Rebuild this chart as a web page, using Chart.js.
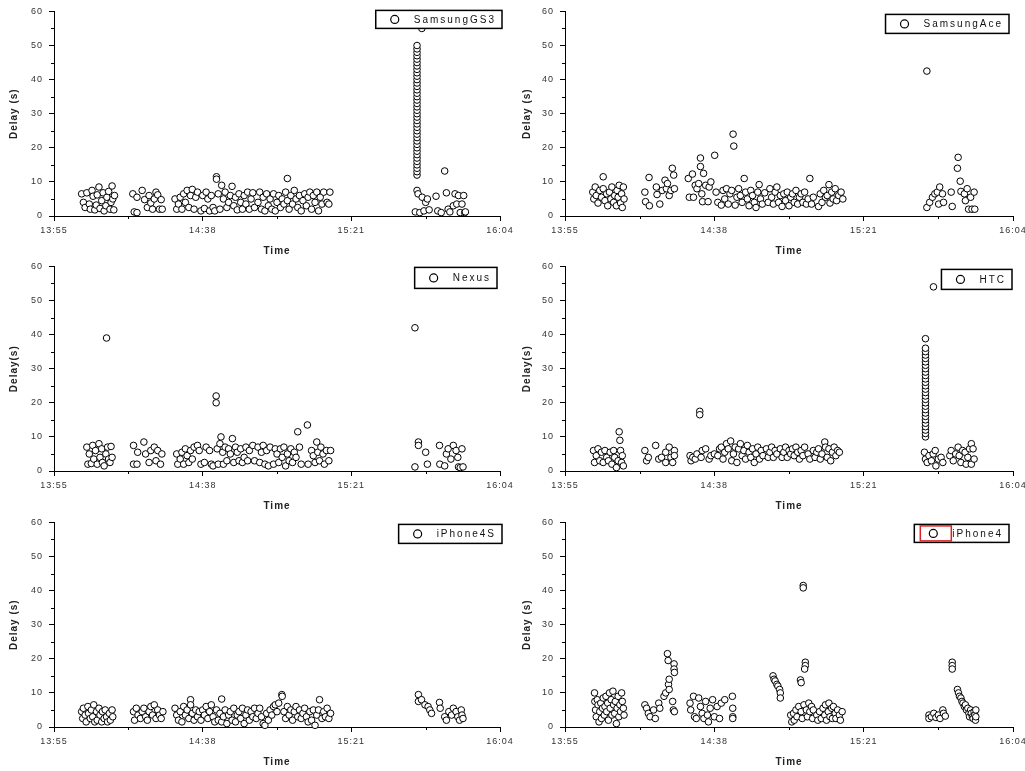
<!DOCTYPE html>
<html lang="en">
<head>
  <meta charset="UTF-8" />
  <title>Delay per device</title>
  <script src="https://cdn.jsdelivr.net/npm/chart.js"></script>
  <style>
    body { margin: 0; background: #fff; overflow: hidden; }
    .panel { position: absolute; }
  </style>
</head>
<body>

  <canvas id="c1" class="panel" width="535" height="258" style="left:0;top:0"></canvas>
  <canvas id="c2" class="panel" width="535" height="258" style="left:510px;top:0"></canvas>
  <canvas id="c3" class="panel" width="535" height="258" style="left:0;top:255px"></canvas>
  <canvas id="c4" class="panel" width="535" height="258" style="left:510px;top:255px"></canvas>
  <canvas id="c5" class="panel" width="535" height="258" style="left:0;top:511px"></canvas>
  <canvas id="c6" class="panel" width="535" height="258" style="left:510px;top:511px"></canvas>

  <script>
    // x values are minutes after 13:55
    const timeTicks = [0, 21.5, 43, 64.5, 86, 107.5, 129];
    const timeLabels = ['13:55', '', '14:38', '', '15:21', '', '16:04'];

    const samsungGS3 = [
      [8.0,6.5],[8.5,4.0],[9.0,2.5],[9.5,6.8],[10.2,3.5],[10.5,2.0],[11.0,7.5],[11.3,5.8],[11.8,1.8],[12.2,3.2],
      [12.5,6.2],[13.0,8.5],[13.3,2.2],[13.8,4.5],[14.2,6.8],[14.5,1.5],[15.0,3.0],[15.3,5.5],[15.8,7.2],[16.2,2.0],
      [16.5,4.0],[16.8,8.8],[17.0,5.0],[17.3,1.8],[17.5,6.0],
      [22.8,6.5],[23.2,1.2],[24.0,1.0],[24.0,5.5],[25.5,7.5],[26.2,4.8],[27.0,2.5],[27.5,6.0],[28.0,3.8],[28.5,2.0],
      [29.0,5.0],[29.5,7.0],[30.0,6.2],[30.5,2.0],[31.0,4.8],[31.3,2.0],
      [35.0,5.0],[35.5,2.0],[36.0,3.5],[36.5,5.5],[37.0,2.0],[37.5,6.5],[38.0,4.0],[38.5,7.5],[39.0,2.5],[39.5,6.0],
      [40.0,7.8],[40.5,2.0],[41.0,5.5],[41.5,7.0],[42.5,1.5],[43.0,6.0],[43.5,2.2],[44.0,7.0],[44.5,5.0],[45.0,1.5],
      [45.5,6.0],[46.0,2.5],[46.5,1.5],[47.0,11.5],[47.0,10.8],[47.5,6.5],[48.0,2.0],[48.5,9.0],[49.0,5.0],[49.5,7.0],
      [50.0,2.5],[50.5,4.0],[51.0,6.0],[51.5,8.7],[52.0,3.0],[52.5,5.5],[53.0,1.8],[53.5,6.5],[54.0,4.0],[54.5,2.0],
      [55.0,6.0],[55.5,3.5],[56.0,7.0],[56.5,2.0],[57.0,5.0],[57.5,6.8],[58.0,2.5],[59.0,4.0],[59.5,7.0],[60.0,2.0],
      [60.5,5.5],[61.0,1.5],[61.5,6.5],[62.0,3.0],[62.5,5.0],[63.0,2.0],[63.5,6.5],[64.0,1.5],[64.5,4.0],[65.0,6.0],
      [65.5,2.5],[66.0,5.0],[66.5,3.5],[67.0,7.0],[67.5,11.0],[67.5,4.5],[68.0,2.0],[68.5,6.0],[69.0,3.5],[69.5,7.5],
      [70.0,5.0],[70.5,2.5],[71.0,6.0],[71.5,1.5],[72.0,4.5],[72.5,6.5],[73.0,3.0],[73.5,5.5],[74.0,7.0],[74.5,2.0],
      [75.0,6.0],[75.5,4.0],[76.0,7.0],[76.5,1.5],[77.0,5.5],[77.5,3.5],[78.0,7.0],[79.0,4.0],[79.5,3.5],[79.8,7.0],
      [106.4,55.0],
      [104.5,1.2],[105.0,7.5],[105.3,6.5],[105.8,1.0],[106.5,5.5],[107.0,1.5],[107.5,4.0],[108.0,5.0],[108.5,1.8],
      [110.5,5.8],[111.0,1.5],[112.0,1.0],[113.0,13.2],[113.5,6.8],[114.0,2.0],[114.5,1.2],[115.5,3.0],[116.0,6.5],
      [116.5,3.5],[117.0,6.0],[117.5,1.0],[118.0,3.5],[118.5,6.0],[118.8,1.0],[119.0,1.2]
    ];
    const gs3BurstTime = 105;
    const gs3Burst = [12,13,14,15,16,17,18,19,20,21,22,23,24,25,26,27,28,29,30,31,32,33,34,35,36,37,38,39,40,41,42,43,44,45,46,47,48,49,50];

    const samsungAce = [
      [8.0,7.0],[8.3,5.0],[8.7,8.5],[9.0,6.0],[9.5,3.8],[10.0,7.5],[10.5,5.5],[11.0,11.5],[11.0,8.0],[11.5,4.5],
      [12.0,6.5],[12.3,3.0],[12.8,7.0],[13.2,5.0],[13.5,8.5],[14.0,4.0],[14.3,6.0],[14.8,3.0],[15.0,7.5],[15.3,5.5],
      [15.6,9.0],[16.0,3.8],[16.3,6.5],[16.5,2.5],[16.8,8.5],[17.0,5.0],
      [23.0,7.0],[23.2,4.2],[24.2,11.3],[24.3,3.0],[26.3,8.5],[26.5,6.3],[27.3,3.5],[28.0,7.5],[28.8,10.5],[29.2,8.0],
      [29.5,9.5],[30.0,6.0],[30.5,7.5],[30.9,14.0],[31.3,12.0],[31.5,8.0],
      [35.5,11.0],[35.8,5.5],[36.7,12.3],[37.0,5.5],[37.5,9.0],[38.0,8.0],[38.5,9.5],[39.0,17.0],[39.0,14.5],[39.4,6.5],
      [39.6,4.2],[39.9,12.5],[40.5,9.0],[41.2,4.2],[41.5,8.5],[42.0,10.0],[43.1,17.8],[43.5,7.0],[44.0,4.0],[45.0,3.2],
      [45.5,7.5],[46.0,5.0],[46.5,8.0],[47.0,3.5],[47.5,6.5],[48.0,7.5],[48.4,24.0],[48.6,20.5],[49.0,3.2],[49.5,5.5],
      [50.0,8.0],[50.5,6.0],[51.0,4.0],[51.6,11.0],[52.0,7.0],[52.5,5.0],[53.0,3.0],[53.5,7.5],[54.0,6.0],[54.5,4.0],
      [55.0,2.5],[55.5,7.0],[55.9,9.2],[56.3,5.0],[56.8,3.5],[57.5,6.8],[58.5,4.0],[59.0,8.0],[59.5,5.5],[60.0,3.5],
      [60.5,7.0],[61.0,8.5],[61.5,4.0],[62.0,6.0],[62.5,2.8],[63.0,6.5],[63.5,4.5],[64.0,7.0],[64.5,3.0],[65.0,5.5],
      [65.5,6.5],[66.0,4.0],[66.5,7.5],[67.0,3.5],[67.5,5.5],[68.0,6.5],[68.5,4.0],[69.0,7.0],[69.5,3.5],[70.0,5.0],
      [70.5,11.0],[71.0,3.5],[71.5,5.5],[73.0,2.8],[73.5,6.5],[74.0,4.0],[74.5,7.5],[75.0,5.5],[75.5,6.0],[76.0,9.2],
      [76.3,3.8],[76.8,7.0],[77.2,5.0],[77.8,8.0],[78.2,4.5],[78.8,6.0],[79.5,7.0],[80.0,5.0],
      [104.2,42.5],[104.2,2.5],[105.0,4.0],[105.8,5.5],[106.5,6.5],[107.2,7.0],[107.6,3.5],[107.9,8.5],[108.7,6.5],
      [109.0,4.0],[111.2,7.0],[111.5,2.8],[113.0,14.0],[113.2,17.2],[113.8,10.2],[114.0,7.2],[115.0,6.5],[115.3,4.5],
      [115.8,8.0],[116.2,2.0],[116.8,5.5],[117.2,2.0],[117.8,7.0],[118.0,2.0]
    ];

    const nexus = [
      [9.5,7.0],[9.8,2.0],[10.2,5.0],[10.8,2.2],[11.2,7.5],[11.5,3.5],[12.0,6.0],[12.5,2.0],[13.0,8.0],[13.3,4.0],
      [13.8,6.5],[14.0,2.5],[14.5,1.5],[15.0,5.0],[15.2,39.0],[15.5,7.0],[15.8,3.5],[16.2,2.5],[16.5,7.2],[16.8,4.0],
      [23.0,7.5],[23.0,2.0],[24.0,2.0],[24.2,5.5],[26.0,8.5],[26.5,5.0],[27.5,2.5],[28.0,6.0],[29.0,7.0],[29.5,3.0],
      [30.0,6.0],[30.8,2.0],[31.2,5.0],
      [35.5,5.0],[35.8,2.0],[36.5,3.5],[37.0,5.5],[37.5,2.0],[38.0,6.5],[38.5,4.5],[39.0,2.5],[39.5,6.0],[40.0,3.5],
      [40.5,7.0],[41.5,7.5],[42.0,6.0],[42.5,2.0],[43.5,2.5],[44.0,7.0],[45.0,6.0],[45.5,2.0],[46.0,1.5],[46.9,22.0],
      [46.9,20.0],[47.2,6.5],[47.5,2.0],[48.0,8.0],[48.3,10.0],[48.8,5.5],[49.0,2.0],[49.5,7.0],[50.0,3.0],[50.5,6.5],
      [51.0,5.0],[51.6,9.5],[52.0,2.5],[52.5,7.0],[53.0,5.5],[53.5,3.0],[54.0,6.5],[54.5,2.5],[55.0,4.0],[55.5,7.0],
      [56.0,3.0],[56.5,6.0],[57.5,7.5],[58.0,3.0],[59.0,7.0],[59.5,2.5],[60.0,5.5],[60.5,7.5],[61.0,2.0],[61.5,6.0],
      [62.0,1.5],[62.5,7.0],[63.5,2.0],[64.0,6.5],[64.5,5.0],[65.0,2.5],[65.5,6.5],[66.0,4.0],[66.5,7.0],[67.0,1.5],
      [67.5,5.0],[68.0,3.0],[68.5,6.5],[69.0,2.5],[69.5,5.5],[70.0,4.0],[70.5,11.5],[71.0,7.0],[71.5,2.0],[73.3,13.5],
      [73.5,2.0],[74.5,6.0],[75.0,4.5],[75.5,2.5],[76.0,8.5],[76.3,5.5],[76.8,3.0],[77.2,7.0],[77.8,5.0],[78.2,2.0],
      [78.8,6.0],[79.5,3.0],[80.0,6.0],
      [104.4,42.0],[104.4,1.2],[105.4,8.5],[105.4,7.5],[107.5,5.5],[108.0,2.0],[111.5,7.5],[111.6,2.0],[113.0,1.5],
      [113.5,5.0],[114.0,6.5],[114.8,3.5],[115.5,7.5],[116.3,6.0],[116.8,4.0],[117.0,1.2],[117.5,1.0],[118.0,6.5],
      [118.3,1.2]
    ];

    const htc = [
      [8.2,6.0],[8.5,2.5],[9.0,4.5],[9.5,6.5],[10.0,3.0],[10.5,5.5],[11.0,2.5],[11.5,6.0],[12.0,4.0],[12.5,3.0],
      [13.0,5.5],[13.5,2.0],[14.0,6.0],[14.3,4.0],[14.8,1.0],[15.3,3.0],[15.6,11.5],[15.8,9.0],[16.0,6.0],[16.3,2.5],
      [16.5,4.5],[16.8,1.5],
      [23.0,6.0],[23.5,3.0],[24.0,4.0],[26.1,7.5],[27.0,3.5],[27.8,4.0],[29.0,5.5],[29.0,2.5],[30.0,7.0],[30.5,4.0],
      [31.0,2.5],[31.5,6.0],[31.5,4.5],
      [36.0,4.5],[36.3,3.0],[36.8,4.0],[37.5,3.5],[38.0,5.0],[38.8,17.5],[38.8,16.5],[39.2,4.0],[39.5,6.0],[40.5,6.5],
      [41.5,3.5],[42.0,4.5],[43.0,5.0],[44.0,4.5],[44.5,6.5],[45.0,7.0],[45.5,3.5],[46.0,5.5],[46.5,8.0],[47.0,6.5],
      [47.7,8.8],[48.0,3.0],[48.5,5.0],[49.0,7.0],[49.5,2.5],[50.0,6.5],[50.5,8.0],[51.0,4.5],[51.5,6.0],[52.0,3.5],
      [52.5,7.5],[53.0,5.5],[53.5,4.0],[54.0,6.5],[54.5,2.5],[55.0,5.0],[55.5,7.0],[56.0,3.5],[56.5,6.0],[57.0,4.5],
      [58.0,6.5],[58.5,4.0],[59.0,5.5],[59.5,7.0],[60.0,4.0],[60.5,6.0],[61.0,5.0],[62.0,6.5],[62.5,4.0],[63.0,5.5],
      [63.5,7.0],[64.0,4.0],[64.5,6.0],[65.0,5.0],[65.5,6.5],[66.0,4.5],[66.5,7.0],[67.0,5.5],[67.5,3.5],[68.0,6.0],
      [68.5,4.5],[69.0,7.0],[70.0,5.0],[70.5,3.5],[71.5,6.0],[72.0,4.0],[72.5,5.5],[73.0,6.5],[73.5,3.5],[74.0,5.0],
      [74.8,8.5],[75.0,7.0],[75.5,4.0],[76.0,6.5],[76.5,3.0],[77.0,5.5],[77.5,7.0],[78.0,4.5],[78.5,6.0],[79.0,5.5],
      [103.8,38.8],[106.1,54.0],
      [103.5,5.5],[103.8,3.5],[104.3,2.5],[104.8,4.5],[105.5,3.0],[106.0,5.0],[106.6,6.0],[106.8,1.5],[107.5,3.5],
      [108.3,4.0],[108.8,2.5],[110.8,4.5],[111.2,6.0],[111.8,3.0],[112.5,5.0],[113.2,7.0],[113.5,4.5],[114.0,2.5],
      [114.5,6.0],[115.2,5.5],[115.5,2.0],[116.0,4.0],[116.5,6.5],[117.0,8.0],[117.0,2.0],[117.5,6.5],[117.8,3.5]
    ];
    const htcBurstTime = 103.8;
    const htcBurst = [10,11,12,13,14,15,16,17,18,19,20,21,22,23,24,25,26,27,28,29,30,31,32,33,34,35,36];

    const iPhone4S = [
      [8.0,4.5],[8.3,2.5],[8.5,5.5],[9.0,3.5],[9.3,1.5],[9.8,6.0],[10.0,4.0],[10.5,2.5],[10.8,5.0],[11.2,3.0],
      [11.5,6.5],[11.8,1.5],[12.3,4.5],[12.5,2.0],[13.0,5.5],[13.3,3.5],[13.8,1.5],[14.0,4.5],[14.5,2.5],[14.8,5.0],
      [15.2,3.0],[15.5,1.5],[16.0,4.0],[16.3,2.0],[16.8,5.0],[17.0,3.0],
      [23.0,4.5],[23.3,2.0],[23.8,5.5],[24.3,3.5],[25.0,2.5],[25.5,4.5],[26.0,5.5],[26.5,3.0],[27.0,2.0],[27.5,4.5],
      [28.0,6.0],[28.5,3.5],[29.0,6.5],[29.5,2.5],[30.0,5.0],[30.5,3.5],[31.0,2.5],[31.5,4.5],
      [35.0,5.5],[35.5,3.5],[36.0,2.0],[36.5,4.5],[37.0,1.5],[37.5,6.0],[38.0,3.5],[38.5,5.0],[39.0,2.5],[39.5,8.0],
      [39.5,6.5],[40.0,4.0],[40.5,2.0],[41.0,5.0],[41.5,3.0],[42.0,4.5],[42.5,2.0],[43.0,5.0],[43.5,3.5],[44.0,6.0],
      [44.5,2.5],[45.0,4.5],[45.5,6.5],[46.0,3.0],[46.5,1.5],[47.0,5.0],[47.5,2.0],[48.0,4.0],[48.5,8.2],[48.5,1.5],
      [49.0,3.0],[49.5,5.0],[50.0,1.0],[50.5,3.5],[51.0,4.5],[51.5,2.0],[52.0,5.5],[52.5,1.5],[53.0,3.5],[53.5,4.5],
      [54.0,2.5],[54.5,5.5],[55.0,1.0],[55.5,3.5],[56.0,5.0],[56.5,2.0],[57.0,4.5],[57.5,3.0],[58.0,5.5],[58.5,2.5],
      [59.0,4.0],[59.5,5.5],[60.0,3.0],[60.5,1.0],[61.0,0.5],[61.5,4.0],[62.0,2.0],[62.5,5.0],[63.0,3.5],[63.5,6.0],
      [64.0,6.5],[64.5,4.5],[65.0,7.0],[65.9,9.5],[66.0,9.0],[66.5,4.5],[67.0,2.5],[67.5,6.0],[68.0,3.5],[68.5,5.0],
      [69.0,2.0],[69.5,4.5],[70.0,6.0],[70.5,3.0],[71.0,5.0],[71.5,2.5],[72.0,4.0],[72.5,5.5],[73.0,3.0],[73.5,1.5],
      [74.0,4.5],[74.5,2.0],[75.0,5.0],[75.5,0.5],[76.0,3.5],[76.5,5.0],[76.8,8.0],[77.5,2.5],[78.0,4.5],[78.5,3.0],
      [79.0,5.5],[79.5,2.5],[80.0,4.0],
      [105.4,9.5],[105.4,7.5],[106.3,8.0],[107.3,6.5],[108.2,6.0],[108.7,5.0],[109.2,4.0],[111.5,7.2],[111.7,5.5],
      [113.0,3.0],[113.5,2.0],[114.2,4.5],[115.0,3.5],[115.5,5.5],[116.3,4.5],[116.8,3.0],[117.3,2.0],[117.8,5.0],
      [118.0,3.5],[118.3,2.5]
    ];

    const iPhone4 = [
      [8.5,10.0],[8.6,7.5],[8.8,5.0],[9.0,3.0],[9.3,8.0],[9.5,6.5],[9.8,1.5],[10.0,4.5],[10.3,7.0],[10.5,2.5],
      [10.8,5.5],[11.0,8.5],[11.3,3.5],[11.5,6.0],[11.8,9.0],[12.0,4.5],[12.3,7.0],[12.5,2.0],[12.8,10.0],[13.0,5.5],
      [13.3,8.0],[13.5,3.5],[13.8,10.5],[14.0,6.5],[14.3,4.0],[14.5,7.5],[14.8,1.0],[15.0,5.5],[15.3,9.0],[15.5,3.0],
      [15.8,6.5],[16.0,4.5],[16.3,10.0],[16.5,7.5],[16.8,5.5],[17.0,3.5],
      [23.0,6.5],[23.5,5.5],[24.0,4.0],[24.5,3.0],[25.5,5.0],[26.0,2.5],[27.0,7.0],[27.3,5.5],[28.5,9.0],[29.0,10.0],
      [29.5,21.5],[29.7,19.5],[29.8,12.5],[30.0,14.0],[30.0,11.0],[31.0,7.5],[31.2,5.0],[31.4,18.5],[31.4,17.0],
      [31.5,16.0],[31.5,4.5],
      [36.0,7.0],[36.2,5.0],[37.0,9.0],[37.3,3.0],[37.8,2.5],[38.5,8.5],[39.0,6.0],[39.5,4.0],[40.0,2.5],[40.5,7.5],
      [41.0,3.5],[41.3,1.5],[41.8,5.5],[42.5,8.0],[43.0,3.0],[43.8,6.0],[44.5,2.5],[45.0,7.0],[46.0,8.0],[48.2,9.0],
      [48.3,5.5],[48.3,3.0],[48.3,2.5],
      [59.9,15.0],[60.2,14.0],[60.5,13.5],[61.0,12.5],[61.3,12.0],[61.8,11.0],[62.0,10.0],[62.0,8.5],
      [65.0,3.5],[65.3,1.5],[65.8,4.0],[66.0,2.0],[66.5,5.0],[66.8,3.0],[67.3,6.0],[67.8,13.8],[68.0,13.0],[68.0,4.5],
      [68.3,2.5],[68.6,41.5],[68.6,40.8],[68.8,6.5],[69.2,19.0],[69.2,18.0],[69.0,17.0],[69.5,5.0],[69.8,3.0],[70.2,7.0],
      [70.5,4.5],[71.0,6.0],[71.3,2.5],[71.5,5.0],
      [72.5,3.5],[72.8,2.0],[73.3,4.5],[73.8,2.5],[74.3,5.5],[74.8,3.5],[75.0,6.5],[75.3,2.0],[75.8,4.5],[76.0,7.0],
      [76.3,3.0],[76.8,5.5],[77.0,2.5],[77.3,6.0],[77.8,4.0],[78.0,2.5],[78.5,5.0],[79.0,3.5],[79.3,2.0],[79.8,4.5],
      [104.8,3.5],[104.8,2.5],[105.5,3.0],[106.2,4.0],[106.8,2.8],[107.5,3.5],[108.0,2.5],[108.8,5.0],[109.0,4.0],
      [109.5,3.2],
      [111.5,19.0],[111.5,18.0],[111.5,17.0],[113.0,11.0],[113.3,10.0],[113.6,9.0],[114.0,8.5],[114.3,7.5],[114.6,7.0],
      [115.0,6.0],[115.3,6.5],[115.6,5.0],[116.0,5.5],[116.3,4.0],[116.5,3.0],[116.8,5.0],[117.0,4.0],[117.3,3.0],
      [117.5,2.5],[117.8,4.5],[118.0,3.5],[118.2,2.0],[118.3,5.0],[118.3,3.0]
    ];

    const gs3All = samsungGS3.concat(gs3Burst.map(v => [gs3BurstTime, v]));
    const htcAll = htc.concat(htcBurst.map(v => [htcBurstTime, v]));

    const panels = [
      { id: 'c1', name: 'SamsungGS3', yTitle: 'Delay (s)', points: gs3All,     side: 'left',  box: { dx: 2,  dy: -1, h: 18 } },
      { id: 'c2', name: 'SamsungAce', yTitle: 'Delay (s)', points: samsungAce, side: 'right', box: { dx: -4, dy: 3,  h: 19 } },
      { id: 'c3', name: 'Nexus',      yTitle: 'Delay(s)',  points: nexus,      side: 'left',  box: { dx: -3, dy: 1,  h: 21 } },
      { id: 'c4', name: 'HTC',        yTitle: 'Delay(s)',  points: htcAll,     side: 'right', box: { dx: -1, dy: 3,  h: 20 } },
      { id: 'c5', name: 'iPhone4S',   yTitle: 'Delay (s)', points: iPhone4S,   side: 'left',  box: { dx: 2,  dy: 2,  h: 19 } },
      { id: 'c6', name: 'iPhone4',    yTitle: 'Delay (s)', points: iPhone4,    side: 'right', box: { dx: -4, dy: 2,  h: 18 }, mark: true }
    ];

    const FONT = '"Liberation Sans", Arial, sans-serif';
    Chart.defaults.font.family = FONT;
    Chart.defaults.color = '#333';

    // the original text is drawn wide, so space the letters a little
    const spacing = {
      id: 'spacing',
      beforeUpdate(chart) { chart.ctx.letterSpacing = '1px'; },
      beforeDraw(chart) { chart.ctx.letterSpacing = '1px'; }
    };

    // short minor ticks, major ones come from the grid settings
    const minorTicks = {
      id: 'minorTicks',
      afterDraw(chart) {
        const { ctx, scales: { x, y } } = chart;
        ctx.save();
        ctx.strokeStyle = '#000';
        ctx.lineWidth = 1;
        ctx.beginPath();
        x.ticks.forEach((t, i) => {
          if (i % 2 === 1) {
            const px = Math.round(x.getPixelForValue(t.value)) + 0.5;
            ctx.moveTo(px, y.bottom);
            ctx.lineTo(px, y.bottom + 3);
          }
        });
        y.ticks.forEach(t => {
          if (t.value % 10 !== 0) {
            const py = Math.round(y.getPixelForValue(t.value)) + 0.5;
            ctx.moveTo(x.left - 3, py);
            ctx.lineTo(x.left, py);
          }
        });
        ctx.stroke();
        ctx.restore();
      }
    };

    // legend in a framed box at the top right of the plot
    const boxLegend = {
      id: 'boxLegend',
      afterDraw(chart, args, opts) {
        const { ctx, chartArea: area } = chart;
        ctx.save();
        ctx.font = '10px ' + FONT;
        ctx.letterSpacing = '2px';
        const tw = ctx.measureText(opts.text).width;
        const right = area.right + opts.dx;
        const left = right - tw - 44;
        const top = area.top + opts.dy;
        const h = opts.h;
        ctx.fillStyle = '#fff';
        ctx.fillRect(left, top, right - left, h);
        ctx.strokeStyle = '#000';
        ctx.lineWidth = 1.5;
        ctx.strokeRect(left, top, right - left, h);
        ctx.lineWidth = 1.2;
        ctx.beginPath();
        ctx.arc(left + 19, top + h / 2, 4, 0, Math.PI * 2);
        ctx.stroke();
        if (opts.mark) {
          ctx.strokeStyle = '#e02020';
          ctx.lineWidth = 1.5;
          ctx.strokeRect(left + 6, top + 1.5, 31, h - 3);
        }
        ctx.fillStyle = '#111';
        ctx.textBaseline = 'middle';
        ctx.fillText(opts.text, left + 38, top + h / 2 + 0.5);
        ctx.restore();
      }
    };

    panels.forEach(p => {
      const left = p.side === 'left';
      new Chart(document.getElementById(p.id), {
        type: 'scatter',
        data: {
          datasets: [{
            label: p.name,
            data: p.points.map(([t, v]) => ({ x: t, y: v })),
            pointStyle: 'circle',
            pointRadius: 3.3,
            pointBorderWidth: 1,
            pointBackgroundColor: '#fff',
            pointBorderColor: '#000',
            clip: false
          }]
        },
        options: {
          responsive: false,
          animation: false,
          events: [],
          layout: { padding: { left: left ? 4 : 7, right: left ? 35 : 32, top: 10, bottom: 0 } },
          plugins: {
            legend: { display: false },
            tooltip: { enabled: false },
            boxLegend: Object.assign({ text: p.name, mark: !!p.mark }, p.box)
          },
          scales: {
            x: {
              type: 'linear',
              min: 0,
              max: 129,
              afterBuildTicks: s => { s.ticks = timeTicks.map(v => ({ value: v })); },
              afterFit: s => { s.height = 42; },
              ticks: {
                autoSkip: false,
                maxRotation: 0,
                padding: 4,
                font: { size: 9 },
                color: '#333',
                callback: (v, i) => timeLabels[i]
              },
              grid: {
                display: true,
                drawOnChartArea: false,
                tickLength: 5,
                tickColor: c => (c.index % 2 === 0 ? '#000' : 'rgba(0,0,0,0)')
              },
              border: { color: '#000', width: 1 },
              title: {
                display: true,
                text: 'Time',
                color: '#222',
                font: { size: 10, weight: 'bold' },
                padding: { top: 0, bottom: 1 }
              }
            },
            y: {
              min: 0,
              max: 60,
              afterFit: s => { s.width = left ? 50 : 48; },
              ticks: {
                stepSize: 5,
                padding: 6,
                font: { size: 9 },
                color: '#333',
                callback: v => (v % 10 === 0 ? v : '')
              },
              grid: {
                display: true,
                drawOnChartArea: false,
                tickLength: 5,
                tickColor: c => (c.tick && c.tick.value % 10 === 0 ? '#000' : 'rgba(0,0,0,0)')
              },
              border: { color: '#000', width: 1 },
              title: {
                display: true,
                text: p.yTitle,
                color: '#222',
                font: { size: 10, weight: 'bold' },
                padding: { top: 4, bottom: 0 }
              }
            }
          }
        },
        plugins: [spacing, minorTicks, boxLegend]
      });
    });
  </script>

</body>
</html>
